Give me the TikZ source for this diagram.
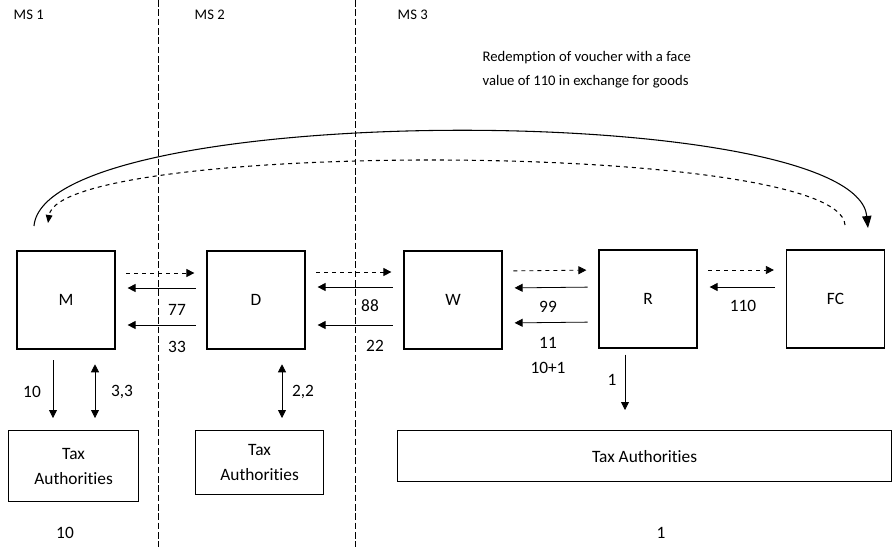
\documentclass[tikz,border=0pt]{standalone}
\usepackage{fontspec}
\setmainfont{Carlito}[Ligatures=NoCommon]
\usetikzlibrary{arrows.meta}

\begin{document}
\begin{tikzpicture}[x=0.75pt, y=-0.75pt, font=\fontsize{13}{15.6}\selectfont,
    small/.style={font=\fontsize{11}{13}\selectfont},
    box/.style={draw, line width=0.9pt, minimum width=73.5pt, minimum height=73.5pt},
    tax/.style={draw, line width=0.9pt, align=center, anchor=north west},
    flow/.style={->, line width=0.6pt, shorten <=8pt, shorten >=9pt},
    border/.style={dash pattern=on 5pt off 2pt, line width=0.4pt},
    >={Triangle[length=6pt,width=6pt]}]
  \useasboundingbox (0,0) rectangle (893,547);
  \draw[border] (158,0) -- (158,547);
  \draw[border] (355,0) -- (355,547);
  \node[small, anchor=west] (ms1) at (9,15) {MS 1};
  \node[small, anchor=west] (ms2) at (190,15) {MS 2};
  \node[small, anchor=west] (ms3) at (393,15) {MS 3};
  \node[small, anchor=west, align=left] (title) at (478,70) {Redemption of voucher with a face\\[5pt]value of 110 in exchange for goods};
  \node[box] (M) at (66,300) {M};
  \node[box] (D) at (256,300) {D};
  \node[box] (W) at (453,300) {W};
  \node[box] (R) at (648,299) {R};
  \node[box] (FC) at (835.5,299) {FC};
  \node[tax, minimum width=97.5pt, minimum height=53.25pt] (T1) at (8,430) {Tax\\[3pt]Authorities};
  \node[tax, minimum width=96pt, minimum height=48pt] (T2) at (195,430) {Tax\\[3pt]Authorities};
  \node[tax, minimum width=370.5pt, minimum height=38.25pt] (T3) at (397,430) {Tax Authorities};
  \coordinate (mend) at (34,226);
  \coordinate (fcend) at (868,228);
  \coordinate (fcstart) at (845,225);
  \coordinate (mstart) at (48,223);
  \draw[line width=0.8pt, -{Triangle[length=9pt,width=7pt]}] (mend) .. controls (45,100) and (855,100) .. (fcend);
  \draw[line width=0.8pt, dashed, -{Triangle[length=6pt,width=5pt]}] (fcstart) .. controls (840,140) and (60,140) .. (mstart);
  \draw[flow, dashed] ([yshift=20.25pt]M.east) -- ([yshift=20.25pt]D.west);
  \draw[flow] ([yshift=9pt]D.west) -- ([yshift=9pt]M.east);
  \draw[flow] ([yshift=-18.75pt]D.west) -- ([yshift=-18.75pt]M.east);
  \draw[flow, dashed] ([yshift=21pt]D.east) -- ([yshift=21pt]W.west);
  \draw[flow] ([yshift=9.75pt]W.west) -- ([yshift=9.75pt]D.east);
  \draw[flow] ([yshift=-18.75pt]W.west) -- ([yshift=-18.75pt]D.east);
  \draw[flow, dashed] ([yshift=21.75pt]W.east) -- ([yshift=21.75pt]R.west);
  \draw[flow] ([yshift=9pt]R.west) -- ([yshift=9pt]W.east);
  \draw[flow] ([yshift=-17.25pt]R.west) -- ([yshift=-17.25pt]W.east);
  \draw[flow, dashed] ([yshift=21.75pt]R.east) -- ([yshift=21.75pt]FC.west);
  \draw[flow] ([yshift=9pt]FC.west) -- ([yshift=9pt]R.east);
  \node (l77) at (177,310) {77};
  \node (l33) at (177,347) {33};
  \node (l88) at (370,306) {88};
  \node (l22) at (375,346) {22};
  \node (l99) at (548,307) {99};
  \node (l11) at (548,343) {11};
  \node (l101) at (548,368) {10+1};
  \node (l110) at (743,306) {110};
  \draw[flow] ([xshift=-9.75pt]M.south) -- ([xshift=-9.75pt]M.south |- T1.north);
  \draw[flow, <->, shorten <=11pt] ([xshift=21.75pt]M.south) -- ([xshift=21.75pt]M.south |- T1.north);
  \draw[flow, <->, shorten <=11pt] ([xshift=19.5pt]D.south) -- ([xshift=19.5pt]D.south |- T2.north);
  \draw[flow, shorten <=4.5pt, shorten >=15pt] ([xshift=-17.25pt]R.south) -- ([xshift=-17.25pt]R.south |- T3.north);
  \node (l10) at (32,392) {10};
  \node (l33b) at (122,392) {3,3};
  \node (l22b) at (303,392) {2,2};
  \node (l1) at (612,380) {1};
  \node (s1) at (65,533) {10};
  \node (s3) at (661,533) {1};
\end{tikzpicture}
\end{document}
